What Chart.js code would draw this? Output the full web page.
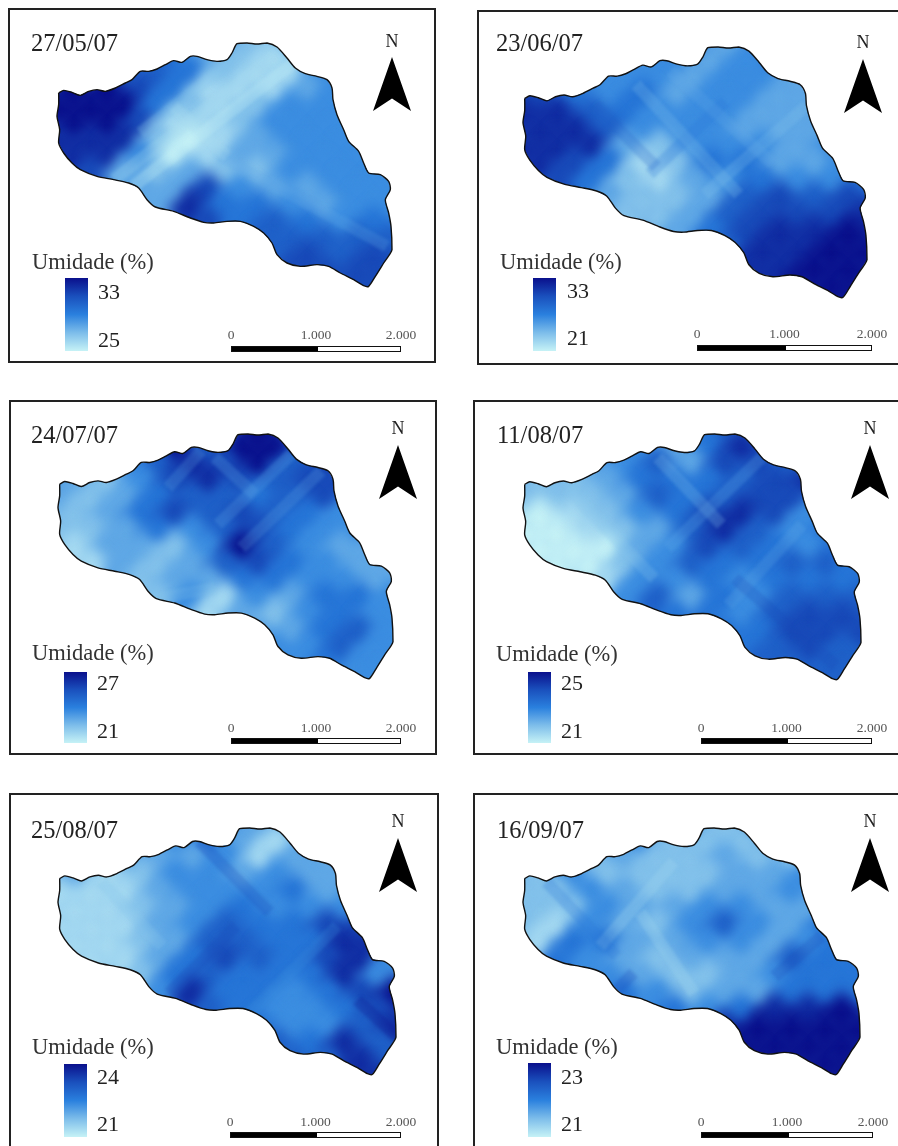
<!DOCTYPE html>
<html lang="pt">
<head>
<meta charset="UTF-8">
<title>Umidade do solo</title>
<script src="https://cdn.jsdelivr.net/npm/chart.js"></script>
<style>
html, body { margin: 0; background: #fff; }
body { position: relative; width: 898px; height: 1146px; overflow: hidden; font-family: "Liberation Serif", serif; color: #222; filter: blur(0.35px); }
.frame { position: absolute; border: 2px solid #222; box-sizing: border-box; }
.abs { position: absolute; white-space: nowrap; line-height: 1; transform: translateY(-50%); }
.date { font-size: 24.5px; }
.title { font-size: 22.5px; color: #333; }
.num { font-size: 22px; }
.north { font-size: 18px; transform: translate(-50%, -50%); }
.sc { font-size: 13.5px; color: #555; transform: translate(-50%, -50%); }
.ramp { position: absolute; background: linear-gradient(to top, #c6f2f6 0%, #7dbdea 25%, #2a80de 50%, #1a50bd 75%, #0a108c 100%); }
.arrow { position: absolute; background: #000; clip-path: polygon(50% 0, 100% 100%, 50% 77%, 0 100%); }
.bar { position: absolute; border: 1px solid #111; box-sizing: border-box; background: #fff; }
.bar div { position: absolute; left: 0; top: 0; bottom: 0; background: #000; }
canvas { position: absolute; }
</style>
</head>
<body>
<script>
// datas e legenda de cada mapa
const dates = ['27/05/07', '23/06/07', '24/07/07', '11/08/07', '25/08/07', '16/09/07'];
const legendMax = [33, 33, 27, 25, 24, 23];
const legendMin = [25, 21, 21, 21, 21, 21];
const scaleTicks = ['0', '1.000', '2.000'];

// contorno da bacia
const basinX = [175,190,215,240,265,290,315,345,375,395,420,445,470,495,520,545,570,590,620,650,680,695,710,740,770,800,830,860,885,915,950,980,995,998,1010,1030,1045,1075,1090,1105,1140,1165,1170,1155,1165,1172,1175,1150,1125,1105,1090,1060,1020,985,950,900,860,830,815,790,760,720,680,640,610,570,520,465,440,415,385,340,290,240,215,190,175,178,170,175,175];
const basinY = [280,272,278,287,275,270,275,265,250,240,215,215,208,195,183,188,170,170,180,185,180,160,132,130,133,130,142,175,205,222,230,240,265,300,345,390,425,455,490,520,525,545,570,600,640,680,750,790,830,860,858,840,820,800,795,800,790,765,730,700,680,665,665,670,668,655,635,622,600,565,550,540,530,510,490,460,430,390,350,315,280];

// malha de leitura: y de cada linha e x da primeira celula (passo de 100 em x)
const rowY = [130,180,230,280,330,380,430,480,530,580,630,680,730,780,830,880];
const rowFirstX = [770,520,370,220,170,220,170,220,270,420,470,620,770,820,870,1120];

const umidade270507 = [[2],[5,3,2,1],[6,6,5,2,1,1,4],[9,9,7,5,1,1,1,3,4],[9,9,9,5,2,1,2,4,4],[9,9,7,1,1,2,4,4,4],[8,8,8,2,0,1,3,4,4,4],[8,8,4,0,1,3,3,4,4,4],[7,3,2,3,2,2,4,4,4,4],[3,3,7,4,3,3,4,4],[3,8,5,5,4,3,4,4],[7,5,6,5,4,5],[6,6,6,6,6],[6,7,6,7],[7,7,7,7],[7]];
const umidade230607 = [[3],[4,4,3,4],[4,4,4,3,4,4,3],[7,5,4,5,3,4,4,3,3],[8,8,6,5,4,4,4,3,3],[8,8,6,4,4,4,3,3,3],[8,8,8,3,2,4,4,4,3,4],[8,7,5,1,2,5,5,3,3,4],[7,5,2,1,3,4,5,4,4,5],[3,2,2,3,6,7,6,7],[2,2,3,6,7,7,7,8],[3,5,7,8,8,9],[6,8,8,9,9],[8,8,9,9],[8,9,9,9],[9]];
const umidade240707 = [[9],[9,6,9,9],[4,6,8,7,9,6,7],[3,2,4,7,8,7,6,7,7],[3,2,3,5,6,6,5,6,7],[2,3,5,7,6,7,6,5,4],[2,2,3,5,4,6,7,5,4,4],[1,3,3,2,4,9,6,4,3,3],[1,3,2,3,6,7,5,4,3,3],[2,3,3,5,5,4,4,3],[2,4,1,4,3,5,5,4],[1,3,2,4,5,4],[3,3,5,6,4],[4,4,6,4],[4,5,4,4],[4]];
const umidade110807 = [[6],[4,3,5,8],[3,4,6,3,7,7,6],[2,2,3,5,5,5,6,7,8],[2,2,2,3,6,5,6,7,7],[0,1,2,4,5,7,8,7,4],[0,0,1,2,3,6,8,6,4,5],[0,0,0,3,4,7,6,5,4,5],[0,0,2,4,6,5,5,6,6,5],[1,4,4,5,4,5,5,5],[4,6,3,5,4,6,6,6],[5,5,4,6,7,7],[5,5,7,7,7],[5,6,7,6],[6,6,6,6],[6]];
const umidade250807 = [[3],[4,5,3,1],[3,3,3,4,1,3,3],[3,1,2,4,4,3,4,3,3],[1,1,1,3,4,4,4,5,3],[1,1,2,3,4,5,4,4,4],[1,1,1,3,4,6,5,5,7,7],[1,1,2,3,6,6,5,5,8,8],[1,1,3,5,7,6,5,7,8,4],[2,5,6,5,5,5,8,4],[4,8,5,5,4,5,7,9],[6,5,4,4,5,7],[5,4,4,6,8],[6,5,8,6],[6,6,8,6],[8]];
const umidade160907 = [[2],[4,2,2,2],[2,3,2,2,3,2,2],[2,4,2,2,2,2,3,3,4],[2,2,4,3,2,2,3,3,4],[2,2,4,3,3,4,4,3,3],[2,1,4,3,2,4,6,4,3,5],[1,5,5,3,3,4,4,3,4,5],[5,4,3,2,3,3,3,6,5,5],[4,3,2,2,3,4,5,5],[5,4,2,3,3,5,5,5],[5,4,5,8,8,9],[8,9,9,9,9],[9,9,9,9],[9,9,9,9],[9]];
const grids = [umidade270507, umidade230607, umidade240707, umidade110807, umidade250807, umidade160907];

// faixas diagonais da interpolacao: x1, y1, x2, y2, nivel
const bands270507 = [[880,190,400,560,0],[820,170,340,540,1],[520,320,680,470,1],[660,470,1160,740,3],[700,180,420,400,2]];
const bands230607 = [[500,240,800,560,2],[600,200,900,470,3],[1000,300,700,560,2],[380,300,560,480,6],[760,290,540,500,5]];
const bands240707 = [[870,190,650,400,3],[960,240,720,470,3],[640,200,760,310,3],[600,180,500,290,3],[480,620,640,590,2]];
const bands110807 = [[880,200,600,470,3],[300,290,560,560,2],[570,200,760,400,2],[800,560,1100,820,7],[1000,400,780,640,3]];
const bands250807 = [[590,170,800,380,7],[1060,640,1180,750,9],[1000,420,720,700,4],[300,290,480,480,2],[500,620,700,420,7]];
const bands160907 = [[240,290,450,510,5],[1060,450,920,570,7],[620,230,400,480,1],[500,560,440,620,7],[520,380,680,620,1]];
const bandSets = [bands270507, bands230607, bands240707, bands110807, bands250807, bands160907];

// posicoes na pagina: moldura, bacia, rotulos
const frames = [[8,8,428,355],[477,10,430,355],[9,400,428,355],[473,400,430,355],[9,793,430,360],[473,793,430,360]];
const basinBox = [[57,43,335,244],[523,47,344,251],[58,434,335,245],[523,434,338,246],[58,828,338,247],[523,828,337,247]];
const layouts = [
  { dateX:31, dateY:43, nX:392, nY:41, arrowY:57, titleX:32, titleY:262, rampX:65, rampY:278, rampH:73, numX:98, maxY:292, minY:340, barX:231, barW:170, barY:346, splitW:86, tickY:335 },
  { dateX:496, dateY:43, nX:863, nY:42, arrowY:59, titleX:500, titleY:262, rampX:533, rampY:278, rampH:73, numX:567, maxY:291, minY:338, barX:697, barW:175, barY:345, splitW:88, tickY:334 },
  { dateX:31, dateY:435, nX:398, nY:428, arrowY:445, titleX:32, titleY:653, rampX:64, rampY:672, rampH:71, numX:97, maxY:683, minY:731, barX:231, barW:170, barY:738, splitW:86, tickY:728 },
  { dateX:497, dateY:435, nX:870, nY:428, arrowY:445, titleX:496, titleY:654, rampX:528, rampY:672, rampH:71, numX:561, maxY:683, minY:731, barX:701, barW:171, barY:738, splitW:86, tickY:728 },
  { dateX:31, dateY:830, nX:398, nY:821, arrowY:838, titleX:32, titleY:1047, rampX:64, rampY:1064, rampH:73, numX:97, maxY:1077, minY:1124, barX:230, barW:171, barY:1132, splitW:86, tickY:1122 },
  { dateX:497, dateY:830, nX:870, nY:821, arrowY:838, titleX:496, titleY:1047, rampX:528, rampY:1063, rampH:74, numX:561, maxY:1077, minY:1124, barX:701, barW:172, barY:1132, splitW:87, tickY:1122 }
];

const rampStops = [[198,242,246],[125,189,234],[42,128,222],[26,80,189],[10,16,140]];
function rampColor(level, alpha) {
  const t = level / 9 * (rampStops.length - 1);
  const i = Math.min(Math.floor(t), rampStops.length - 2);
  const f = t - i;
  const c = rampStops[i].map((v, k) => Math.round(v + (rampStops[i + 1][k] - v) * f));
  return 'rgba(' + c.join(',') + ',' + (alpha === undefined ? 1 : alpha) + ')';
}

function addBox(className, x, y, w, h, text) {
  const el = document.createElement('div');
  el.className = className;
  el.style.left = x + 'px';
  el.style.top = y + 'px';
  if (w) el.style.width = w + 'px';
  if (h) el.style.height = h + 'px';
  if (text !== undefined) el.textContent = text;
  document.body.appendChild(el);
  return el;
}

// recorta a malha pelo contorno da bacia e suaviza as celulas
const basinPlugin = {
  id: 'basinClip',
  beforeDatasetsDraw(chart, args, opts) {
    const ctx = chart.ctx, sx = chart.scales.x, sy = chart.scales.y;
    ctx.save();
    ctx.beginPath();
    basinX.forEach((x, i) => ctx.lineTo(sx.getPixelForValue(x), sy.getPixelForValue(basinY[i])));
    ctx.closePath();
    ctx.clip();
    ctx.fillStyle = opts.base;
    ctx.fill();
  },
  beforeDatasetDraw(chart, args) {
    const kind = chart.data.datasets[args.index].kind;
    if (kind === 'cells') chart.ctx.filter = 'blur(6.5px)';
    if (kind === 'band') chart.ctx.filter = 'blur(1.5px)';
    if (kind === 'outline') chart.ctx.restore();
  },
  afterDatasetDraw(chart, args) {
    const kind = chart.data.datasets[args.index].kind;
    if (kind !== 'outline') chart.ctx.filter = 'none';
  }
};

dates.forEach((date, p) => {
  const f = frames[p], b = basinBox[p], l = layouts[p], pad = 6;
  addBox('frame', f[0], f[1], f[2], f[3]);

  const cells = [], colors = [];
  grids[p].forEach((row, j) => row.forEach((v, i) => {
    cells.push({ x: rowFirstX[j] + 100 * i, y: rowY[j] });
    colors.push(rampColor(v));
  }));

  const datasets = [{
    kind: 'outline', order: 0, showLine: true, tension: 0.25, borderColor: '#111', borderWidth: 1.4, pointRadius: 0, clip: false,
    data: basinX.map((x, i) => ({ x: x, y: basinY[i] }))
  }];
  bandSets[p].forEach(s => datasets.push({
    kind: 'band', order: 1, showLine: true, borderColor: rampColor(s[4], 0.25), borderWidth: 12, pointRadius: 0, clip: false,
    data: [{ x: s[0], y: s[1] }, { x: s[2], y: s[3] }]
  }));
  datasets.push({
    kind: 'cells', order: 2, showLine: false, pointStyle: 'rectRot', pointRadius: 23, borderWidth: 0, pointBorderWidth: 0, clip: false,
    pointBackgroundColor: colors, data: cells
  });

  const cv = document.createElement('canvas');
  cv.width = b[2] + 2 * pad;
  cv.height = b[3] + 2 * pad;
  cv.style.left = (b[0] - pad) + 'px';
  cv.style.top = (b[1] - pad) + 'px';
  document.body.appendChild(cv);

  const meanLevel = grids[p].flat().reduce((a, v) => a + v, 0) / grids[p].flat().length;
  new Chart(cv, {
    type: 'scatter',
    data: { datasets: datasets },
    plugins: [basinPlugin],
    options: {
      responsive: false,
      animation: false,
      layout: { padding: pad, autoPadding: false },
      events: [],
      plugins: { legend: { display: false }, tooltip: { enabled: false }, basinClip: { base: rampColor(meanLevel) } },
      scales: {
        x: { type: 'linear', display: false, min: 170, max: 1175 },
        y: { type: 'linear', display: false, min: 130, max: 862, reverse: true }
      }
    }
  });

  addBox('abs date', l.dateX, l.dateY, 0, 0, date);
  addBox('abs north', l.nX, l.nY, 0, 0, 'N');
  addBox('arrow', l.nX - 19, l.arrowY, 38, 54);
  addBox('abs title', l.titleX, l.titleY, 0, 0, 'Umidade (%)');
  addBox('ramp', l.rampX, l.rampY, 23, l.rampH);
  addBox('abs num', l.numX, l.maxY, 0, 0, legendMax[p]);
  addBox('abs num', l.numX, l.minY, 0, 0, legendMin[p]);
  const bar = addBox('bar', l.barX, l.barY, l.barW, 6);
  const black = document.createElement('div');
  black.style.width = l.splitW + 'px';
  bar.appendChild(black);
  scaleTicks.forEach((t, i) => addBox('abs sc', l.barX + l.barW * i / 2, l.tickY, 0, 0, t));
});
</script>
</body>
</html>
